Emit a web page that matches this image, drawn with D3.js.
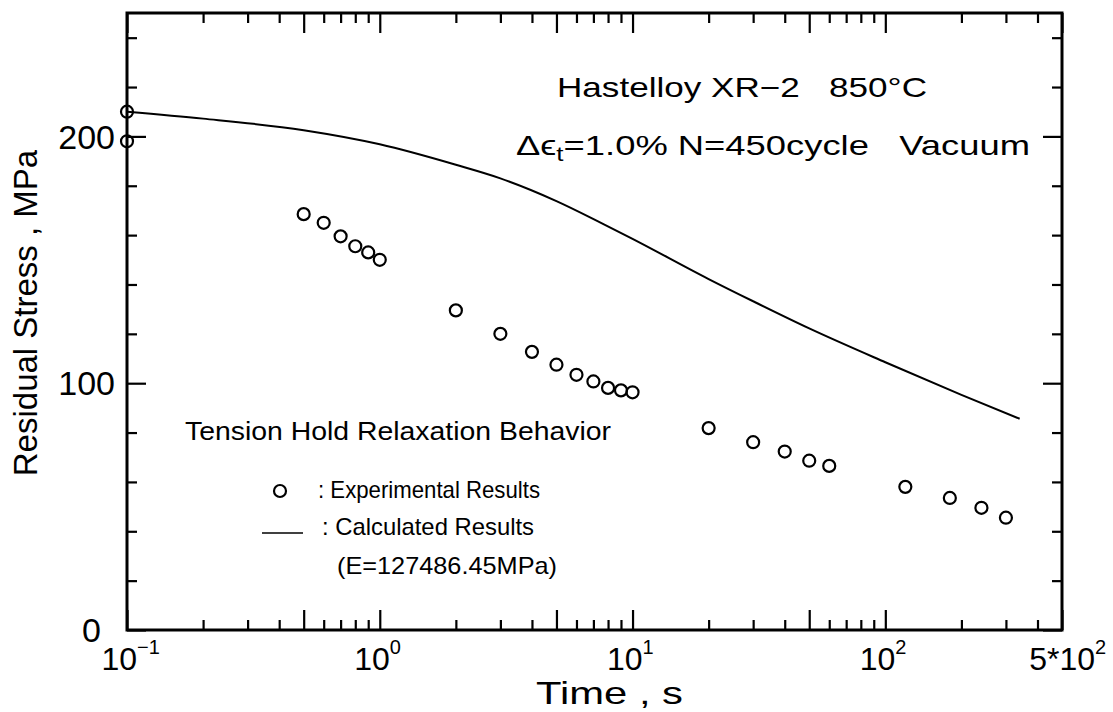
<!DOCTYPE html>
<html lang="en">
<head>
    <meta charset="UTF-8">
    <title>Tension Hold Relaxation Behavior</title>
    <script src="https://d3js.org/d3.v7.min.js"></script>
    <style>
        body {
            margin: 0;
            background-color: #fff;
        }

        svg {
            display: block;
            font-family: "Liberation Sans", Arial, sans-serif;
        }

        .tick line {
            stroke: #000;
            stroke-width: 2.2;
        }

        .note {
            font-size: 28px;
            fill: #000;
        }

        .legend-text {
            font-size: 24px;
            fill: #000;
        }
    </style>
</head>
<body>
    <svg width="1113" height="712"></svg>

    <script>
        // experimental points (time in s, residual stress in MPa)
        var expTime = [0.1, 0.1, 0.5, 0.6, 0.7, 0.8, 0.9, 1, 2, 3, 4, 5, 6, 7, 8, 9, 10,
                       20, 30, 40, 50, 60, 120, 180, 240, 300];
        var expStress = [210, 198, 168.5, 165, 159.5, 155.5, 153, 150, 129.5, 120, 112.7, 107.5, 103.4,
                         100.7, 98.1, 97.1, 96.3, 81.8, 76.1, 72.3, 68.6, 66.5, 58, 53.5, 49.5, 45.5];

        // calculated curve
        var calcTime = [0.1, 0.2, 0.5, 1, 2, 3, 5, 7.5, 10, 20, 30, 50, 100, 200, 340];
        var calcStress = [210, 207.2, 202.5, 196.8, 188.5, 183, 173.8, 165, 158.5, 142.2, 133.2,
                          122.2, 108.5, 95.3, 85.6];

        // tick labels
        var xLabelValues = [0.1, 1, 10, 100, 500];
        var xLabelBase = ["10", "10", "10", "10", "5*10"];
        var xLabelExp = ["\u22121", "0", "1", "2", "2"];
        var yLabelValues = [0, 100, 200];

        var svg = d3.select("svg");

        var x = d3.scaleLog().domain([0.1, 500]).range([127, 1062]);
        var y = d3.scaleLinear().domain([0, 250]).range([630, 13]);

        // ticks: 1 and 5 of each decade are long, the rest short
        var xAll = x.ticks();
        function isMajor(d) {
            var m = Math.round(d / Math.pow(10, Math.floor(Math.log10(d) + 1e-9)));
            return m === 1 || m === 5;
        }
        var xMajor = xAll.filter(isMajor);
        var xMinor = xAll.filter(function(d) { return !isMajor(d); });
        var yAll = d3.range(0, 250, 20);
        var yMajor = yAll.filter(function(d) { return d % 100 === 0; });
        var yMinor = yAll.filter(function(d) { return d % 100 !== 0; });

        function drawTicks(axis, tr, values, size) {
            svg.append("g")
                .attr("transform", tr)
                .call(axis.tickValues(values).tickSize(size).tickFormat(""))
                .call(function(g) { g.select(".domain").remove(); });
        }

        drawTicks(d3.axisBottom(x), "translate(0,630)", xMinor, -10);
        drawTicks(d3.axisBottom(x), "translate(0,630)", xMajor, -20);
        drawTicks(d3.axisTop(x), "translate(0,13)", xMinor, -10);
        drawTicks(d3.axisTop(x), "translate(0,13)", xMajor, -20);
        drawTicks(d3.axisLeft(y), "translate(127,0)", yMinor, -10);
        drawTicks(d3.axisLeft(y), "translate(127,0)", yMajor, -19);
        drawTicks(d3.axisRight(y), "translate(1062,0)", yMinor, -10);
        drawTicks(d3.axisRight(y), "translate(1062,0)", yMajor, -19);

        // frame
        svg.append("rect")
            .attr("x", x.range()[0])
            .attr("y", y.range()[1])
            .attr("width", x.range()[1] - x.range()[0])
            .attr("height", y.range()[0] - y.range()[1])
            .attr("fill", "none")
            .attr("stroke", "#000")
            .attr("stroke-width", 3);

        // y labels (the 0 sits a little further left, clear of 10^-1)
        svg.selectAll(".ylab")
            .data(yLabelValues)
            .enter().append("text")
            .attr("class", "ylab")
            .attr("x", function(d) { return d === 0 ? 101 : 115; })
            .attr("y", function(d) { return y(d); })
            .attr("dy", "0.36em")
            .attr("text-anchor", "end")
            .attr("font-size", 34)
            .text(function(d) { return d; });

        // x labels: base ends just right of the tick, exponent follows
        // (last one is pushed right, as in the original)
        var xl = svg.selectAll(".xlab")
            .data(xLabelValues)
            .enter().append("g")
            .attr("class", "xlab")
            .attr("transform", function(d, i) {
                var off = i === xLabelValues.length - 1 ? 33 : 10;
                return "translate(" + (x(d) + off) + ",0)";
            });
        xl.append("text")
            .attr("y", 670)
            .attr("text-anchor", "end")
            .attr("font-size", 32)
            .text(function(d, i) { return xLabelBase[i]; });
        xl.append("text")
            .attr("y", 654)
            .attr("font-size", 20)
            .text(function(d, i) { return xLabelExp[i]; });

        // axis titles
        svg.append("text")
            .attr("transform", "translate(37,313) rotate(-90)")
            .attr("text-anchor", "middle")
            .attr("font-size", 33)
            .text("Residual Stress , MPa");

        svg.append("text")
            .attr("x", 536)
            .attr("y", 704)
            .attr("font-size", 32)
            .attr("textLength", 147)
            .attr("lengthAdjust", "spacingAndGlyphs")
            .text("Time , s");

        // calculated curve
        var line = d3.line()
            .x(function(d) { return x(d[0]); })
            .y(function(d) { return y(d[1]); })
            .curve(d3.curveMonotoneX);

        svg.append("path")
            .datum(calcTime.map(function(t, i) { return [t, calcStress[i]]; }))
            .attr("d", line)
            .attr("fill", "none")
            .attr("stroke", "#000")
            .attr("stroke-width", 2);

        // experimental circles
        svg.selectAll(".pt")
            .data(expTime.map(function(t, i) { return [t, expStress[i]]; }))
            .enter().append("circle")
            .attr("class", "pt")
            .attr("cx", function(d) { return x(d[0]); })
            .attr("cy", function(d) { return y(d[1]); })
            .attr("r", 6)
            .attr("fill", "none")
            .attr("stroke", "#000")
            .attr("stroke-width", 2.2);

        // notes
        svg.append("text")
            .attr("class", "note")
            .attr("x", 557)
            .attr("y", 97)
            .attr("textLength", 370)
            .attr("lengthAdjust", "spacingAndGlyphs")
            .attr("xml:space", "preserve")
            .text("Hastelloy XR\u22122   850\u00b0C");

        var n2 = svg.append("text")
            .attr("class", "note")
            .attr("x", 516)
            .attr("y", 155)
            .attr("textLength", 514)
            .attr("lengthAdjust", "spacingAndGlyphs")
            .attr("xml:space", "preserve");
        n2.append("tspan").text("\u0394\u03f5");
        n2.append("tspan").attr("font-size", 20).attr("dy", 6).text("t");
        n2.append("tspan").attr("dy", -6).text("=1.0% N=450cycle   Vacuum");

        svg.append("text")
            .attr("x", 185)
            .attr("y", 440)
            .attr("font-size", 26)
            .attr("textLength", 426)
            .attr("lengthAdjust", "spacingAndGlyphs")
            .text("Tension Hold Relaxation Behavior");

        // legend
        svg.append("circle")
            .attr("cx", 280)
            .attr("cy", 491)
            .attr("r", 6)
            .attr("fill", "none")
            .attr("stroke", "#000")
            .attr("stroke-width", 2.2);
        svg.append("text")
            .attr("class", "legend-text")
            .attr("x", 318)
            .attr("y", 498)
            .attr("textLength", 222)
            .attr("lengthAdjust", "spacingAndGlyphs")
            .text(": Experimental Results");

        svg.append("line")
            .attr("x1", 262)
            .attr("x2", 303)
            .attr("y1", 533)
            .attr("y2", 533)
            .attr("stroke", "#000")
            .attr("stroke-width", 1.5);
        svg.append("text")
            .attr("class", "legend-text")
            .attr("x", 322)
            .attr("y", 535)
            .attr("textLength", 212)
            .attr("lengthAdjust", "spacingAndGlyphs")
            .text(": Calculated Results");

        svg.append("text")
            .attr("class", "legend-text")
            .attr("x", 337)
            .attr("y", 574)
            .attr("textLength", 220)
            .attr("lengthAdjust", "spacingAndGlyphs")
            .text("(E=127486.45MPa)");
    </script>
</body>
</html>
